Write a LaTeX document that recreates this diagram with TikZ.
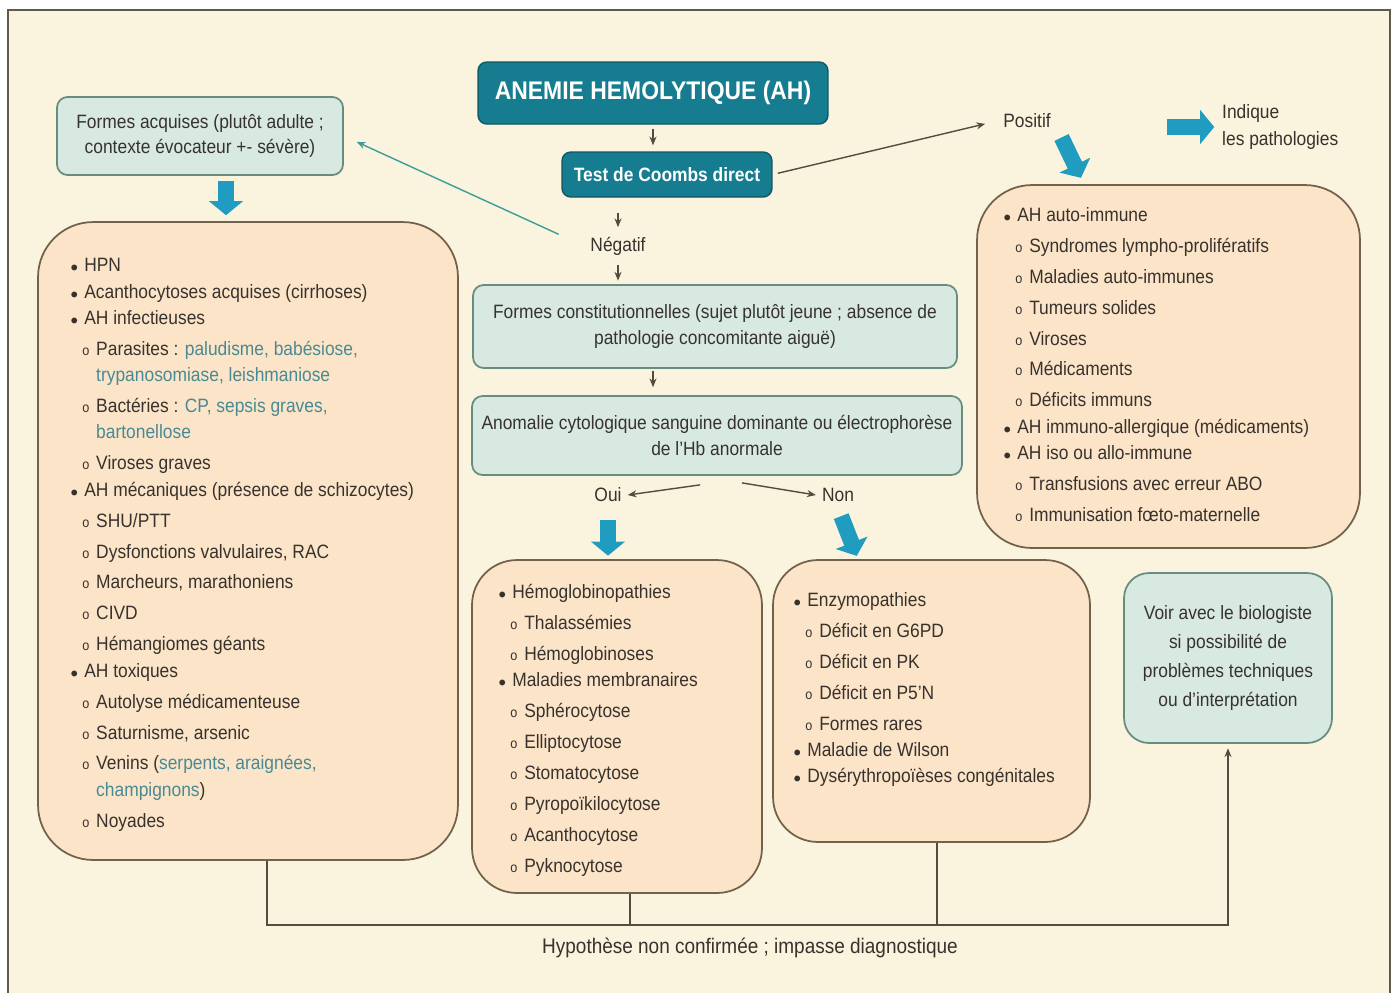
\documentclass[tikz,border=0pt]{standalone}
\usepackage{fontspec}
\setmainfont[FakeStretch=0.9]{Liberation Sans}
\usepackage{xcolor}
\usetikzlibrary{arrows.meta}

\definecolor{fond}{RGB}{250,243,222}
\definecolor{cadre}{RGB}{95,90,75}
\definecolor{peche}{RGB}{252,228,200}
\definecolor{bordpeche}{RGB}{115,98,75}
\definecolor{vertpale}{RGB}{215,233,225}
\definecolor{bordvert}{RGB}{105,140,128}
\definecolor{bleufonce}{RGB}{22,124,144}
\definecolor{bleuvif}{RGB}{32,156,192}
\definecolor{sarcelle}{RGB}{60,158,152}
\definecolor{patho}{RGB}{72,138,148}
\definecolor{texte}{RGB}{55,50,45}
\definecolor{trait}{RGB}{85,75,62}

\newcommand{\puce}{\makebox[6.8pt][l]{\hspace*{-1pt}$\scriptstyle\bullet$}}
\newcommand{\rond}{\hspace*{5.7pt}\makebox[7.9pt][l]{\footnotesize o}}
\newcommand{\suite}{\hspace*{13.6pt}}
\newcommand{\pat}[1]{\textcolor{patho}{#1}}
\newcommand{\ecart}{\\[2.6pt]}

\begin{document}
\begin{tikzpicture}[x=0.02cm,y=-0.02cm,
        every node/.style={text=texte},
        titre/.style={fill=bleufonce, draw=bleufonce!70!black, line width=0.8pt, rounded corners=5pt, text=white},
        boite/.style={draw=bordvert, fill=vertpale, line width=1pt, rounded corners=6pt, align=center, inner sep=0pt, font=\fontsize{11}{14.7}\selectfont},
        liste/.style={draw=bordpeche, fill=peche, line width=1pt, rounded corners=1.1cm},
        texteliste/.style={anchor=north west, align=left, inner sep=0pt, font=\fontsize{11}{15}\selectfont},
        etiquette/.style={font=\fontsize{11}{15}\selectfont},
        fleche/.style={draw=trait, line width=0.8pt, -{Stealth[length=5pt,width=4pt]}},
        ligne/.style={draw=trait, line width=0.8pt},
        grosse/.style={draw=bleuvif, line width=9pt, -{Triangle[length=8pt,width=19pt]}}]
        \useasboundingbox (0,0) rectangle (1398,992);
        \fill[white] (0,0) rectangle (1398,992);
        \fill[fond] (8,10) rectangle (1390,1000);
        \draw[cadre, line width=1.2pt] (8,1000) -- (8,10) -- (1390,10) -- (1390,1000);

        \node[titre, minimum width=7cm, minimum height=1.24cm, font=\fontsize{14.5}{16}\selectfont\bfseries] (anemie) at (653,93) {ANEMIE HEMOLYTIQUE (AH)};
        \node[titre, minimum width=4.2cm, minimum height=0.9cm, font=\fontsize{11}{13}\selectfont\bfseries] (coombs) at (667,174.5) {Test de Coombs direct};
        \node[boite, minimum width=5.72cm, minimum height=1.56cm] (acquises) at (200,136) {Formes acquises (plutôt adulte ;\\contexte évocateur +- sévère)};
        \node[etiquette] (negatif) at (618,246) {Négatif};
        \node[etiquette] (positif) at (1027,121) {Positif};
        \node[etiquette, anchor=west, align=left] (indique) at (1216,127) {Indique\\les pathologies};
        \node[boite, minimum width=9.68cm, minimum height=1.66cm] (constit) at (715,326.5) {Formes constitutionnelles (sujet plutôt jeune ; absence de\\pathologie concomitante aiguë)};
        \node[boite, minimum width=9.8cm, minimum height=1.58cm] (anomalie) at (717,435.5) {Anomalie cytologique sanguine dominante ou électrophorèse\\de l'Hb anormale};
        \node[etiquette] (oui) at (608,495) {Oui};
        \node[etiquette] (non) at (838,495) {Non};
        \node[boite, rounded corners=0.5cm, minimum width=4.16cm, minimum height=3.4cm, font=\fontsize{11}{16.6}\selectfont] (voir) at (1228,658) {Voir avec le biologiste\\si possibilité de\\problèmes techniques\\ou d'interprétation};

        \node[liste, minimum width=8.4cm, minimum height=12.76cm] (acquis) at (248,541) {};
        \node[liste, minimum width=7.66cm, minimum height=7.26cm] (immun) at (1168.5,366.5) {};
        \node[liste, rounded corners=0.9cm, minimum width=5.8cm, minimum height=6.66cm] (hemo) at (617,726.5) {};
        \node[liste, rounded corners=0.9cm, minimum width=6.34cm, minimum height=5.64cm] (enzymo) at (931.5,701) {};

        \node[texteliste] (acquisliste) at (72,258) {\puce HPN\\
                \puce Acanthocytoses acquises (cirrhoses)\\
                \puce AH infectieuses\ecart
                \rond Parasites : \pat{paludisme, babésiose,}\\
                \suite\pat{trypanosomiase, leishmaniose}\ecart
                \rond Bactéries : \pat{CP, sepsis graves,}\\
                \suite\pat{bartonellose}\ecart
                \rond Viroses graves\\
                \puce AH mécaniques (présence de schizocytes)\ecart
                \rond SHU/PTT\ecart
                \rond Dysfonctions valvulaires, RAC\ecart
                \rond Marcheurs, marathoniens\ecart
                \rond CIVD\ecart
                \rond Hémangiomes géants\\
                \puce AH toxiques\ecart
                \rond Autolyse médicamenteuse\ecart
                \rond Saturnisme, arsenic\ecart
                \rond Venins (\pat{serpents, araignées,}\\
                \suite\pat{champignons})\ecart
                \rond Noyades};
        \node[texteliste] (immunliste) at (1005,207) {\puce AH auto-immune\ecart
                \rond Syndromes lympho-prolifératifs\ecart
                \rond Maladies auto-immunes\ecart
                \rond Tumeurs solides\ecart
                \rond Viroses\ecart
                \rond Médicaments\ecart
                \rond Déficits immuns\\
                \puce AH immuno-allergique (médicaments)\\
                \puce AH iso ou allo-immune\ecart
                \rond Transfusions avec erreur ABO\ecart
                \rond Immunisation fœto-maternelle};
        \node[texteliste] (hemoliste) at (500,584) {\puce Hémoglobinopathies\ecart
                \rond Thalassémies\ecart
                \rond Hémoglobinoses\\
                \puce Maladies membranaires\ecart
                \rond Sphérocytose\ecart
                \rond Elliptocytose\ecart
                \rond Stomatocytose\ecart
                \rond Pyropoïkilocytose\ecart
                \rond Acanthocytose\ecart
                \rond Pyknocytose};
        \node[texteliste] (enzymoliste) at (795,592) {\puce Enzymopathies\ecart
                \rond Déficit en G6PD\ecart
                \rond Déficit en PK\ecart
                \rond Déficit en P5’N\ecart
                \rond Formes rares\\
                \puce Maladie de Wilson\\
                \puce Dysérythropoïèses congénitales};

        \node[etiquette, font=\fontsize{12}{15}\selectfont] (impasse) at (750,948) {Hypothèse non confirmée ; impasse diagnostique};
        \coordinate (carrefour) at (1228,925);

        \draw[fleche, shorten <=2.3pt, shorten >=3.4pt] (anemie.south) -- (coombs.north -| anemie.south);
        \draw[fleche, shorten <=3pt, shorten >=7pt] (coombs.east) -- (positif.west);
        \draw[fleche, shorten <=8.5pt, shorten >=2pt] (negatif.north |- coombs.south) -- (negatif.north);
        \draw[fleche, shorten <=2pt, shorten >=2pt] (negatif.south) -- (negatif.south |- constit.north);
        \draw[fleche, draw=sarcelle, shorten <=16pt, shorten >=8pt] (negatif.west) -- (acquises.east);
        \draw[fleche, shorten <=1pt, shorten >=4.5pt] (constit.south -| anemie.south) -- (anomalie.north -| anemie.south);
        \draw[fleche] ([xshift=-0.34cm,yshift=-0.18cm]anomalie.south) -- (oui.east);
        \draw[fleche] ([xshift=0.5cm,yshift=-0.14cm]anomalie.south) -- (non.west);

        \draw[grosse, shorten <=2.8pt, shorten >=3.4pt] ([xshift=0.52cm]acquises.south) -- ([xshift=0.52cm]acquises.south |- acquis.north);
        \draw[grosse, shorten <=6.8pt, shorten >=2pt] (oui.south) -- (oui.south |- hemo.north);
        \draw[grosse, shorten <=5pt, shorten >=2pt] (non.south) -- ([xshift=0.4cm]non.south |- enzymo.north);
        \draw[grosse, shorten <=2pt, shorten >=4pt] ([xshift=0.66cm]positif.south) -- ([xshift=1.14cm]positif.south |- immun.north);
        \draw[grosse, shorten >=1pt] ([xshift=-0.98cm]indique.west) -- (indique.west);

        \draw[ligne, -{Stealth[length=5pt,width=4pt]}, shorten >=2.5pt] ([xshift=0.38cm]acquis.south) |- (carrefour) -- (voir.south);
        \draw[ligne] ([xshift=0.26cm]hemo.south) -- ([xshift=0.26cm]hemo.south |- carrefour);
        \draw[ligne] ([xshift=0.11cm]enzymo.south) -- ([xshift=0.11cm]enzymo.south |- carrefour);
\end{tikzpicture}
\end{document}
